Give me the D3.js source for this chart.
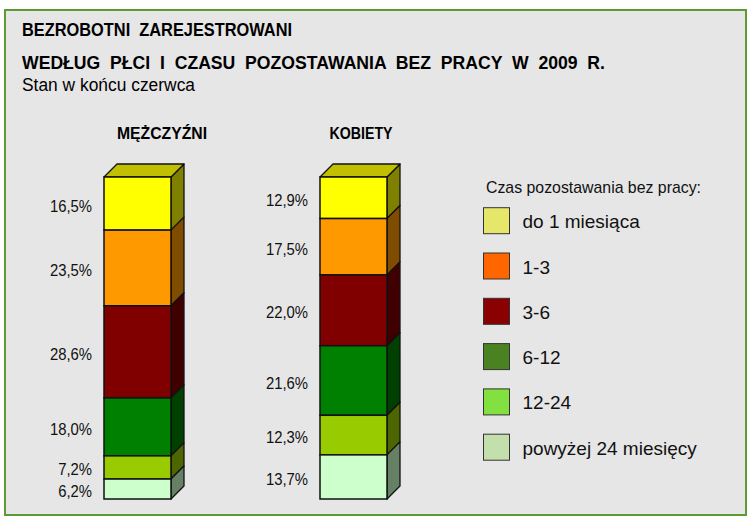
<!DOCTYPE html>
<html>
<head>
<meta charset="utf-8">
<script src="https://cdn.jsdelivr.net/npm/d3@7"></script>
<style>
  html, body { margin: 0; padding: 0; background: #fff; }
  svg { display: block; font-family: "Liberation Sans", Arial, sans-serif; }
</style>
</head>
<body>
<div id="chart"></div>
<script>
// ---- Data ----
var CATEGORIES = ['do 1 miesiąca', '1-3', '3-6', '6-12', '12-24', 'powyżej 24 miesięcy'];
var GROUPS = ['MĘŻCZYŹNI', 'KOBIETY'];
var MEN = [16.5, 23.5, 28.6, 18.0, 7.2, 6.2];
var WOMEN = [12.9, 17.5, 22.0, 21.6, 12.3, 13.7];

// Bar face colours (front / side / top) and legend swatch colours
var FRONT = ['#ffff00', '#ff9900', '#800000', '#008000', '#99cc00', '#ccffcc'];
var SIDE = ['#808000', '#804d00', '#400000', '#004000', '#4d6600', '#668066'];
var TOP = '#c0c000';
var LEGEND = ['#e6e66a', '#ff6600', '#8b0000', '#4a8222', '#82e040', '#c3e0ac'];

var W = 751, H = 521;
var BAR_W = 67, DEPTH = 13;

var svg = d3.select('#chart').append('svg')
  .attr('width', W)
  .attr('height', H);

// squeeze a text horizontally to look like a narrow face
function narrow(sel, factor) {
  sel.each(function () {
    var len = this.getComputedTextLength();
    d3.select(this)
      .attr('textLength', len * factor)
      .attr('lengthAdjust', 'spacingAndGlyphs');
  });
}

// Frame
svg.append('rect')
  .attr('x', 5).attr('y', 10)
  .attr('width', 741).attr('height', 505)
  .attr('fill', '#e6e6e6')
  .attr('stroke', '#5b9b33')
  .attr('stroke-width', 2);

// Titles
var titles = [
  { text: 'BEZROBOTNI  ZAREJESTROWANI', y: 36, len: 270, size: 18, bold: true },
  { text: 'WEDŁUG  PŁCI  I  CZASU  POZOSTAWANIA  BEZ  PRACY  W  2009  R.', y: 69, len: 583, size: 18, bold: true },
  { text: 'Stan w końcu czerwca', y: 91, len: 173, size: 17.5, bold: false }
];
svg.selectAll('.title')
  .data(titles)
  .enter().append('text')
  .attr('class', 'title')
  .attr('x', 22)
  .attr('y', function (d) { return d.y; })
  .attr('textLength', function (d) { return d.len; })
  .attr('lengthAdjust', 'spacingAndGlyphs')
  .style('white-space', 'pre')
  .attr('font-size', function (d) { return d.size; })
  .attr('font-weight', function (d) { return d.bold ? 'bold' : 'normal'; })
  .attr('fill', '#000')
  .text(function (d) { return d.text; });

// ---- Scales ----
var x = d3.scalePoint().domain(GROUPS).range([104, 320]);
var y = d3.scaleLinear().domain([0, 100]).range([177, 499]);

var locale = d3.formatLocale({ decimal: ',', thousands: ' ', grouping: [3], currency: ['', ' zł'] });
var fmt = locale.format('.1f');

function stackData(values) {
  var acc = 0;
  return values.map(function (v, i) {
    var d = { i: i, value: v, y0: acc, y1: acc + v };
    acc += v;
    return d;
  });
}

var groupTitle = {
  'MĘŻCZYŹNI': { x: 162, len: 90 },
  'KOBIETY': { x: 361, len: 63 }
};

GROUPS.forEach(function (name, gi) {
  var data = stackData(gi === 0 ? MEN : WOMEN);
  var x0 = x(name), x1 = x0 + BAR_W;
  var g = svg.append('g').attr('class', 'bar');

  // side faces
  g.selectAll('.side')
    .data(data)
    .enter().append('path')
    .attr('class', 'side')
    .attr('d', function (d) {
      var t = y(d.y0), b = y(d.y1);
      return 'M' + x1 + ',' + t + 'L' + (x1 + DEPTH) + ',' + (t - DEPTH) +
             'L' + (x1 + DEPTH) + ',' + (b - DEPTH) + 'L' + x1 + ',' + b + 'Z';
    })
    .attr('fill', function (d) { return SIDE[d.i]; })
    .attr('stroke', '#111')
    .attr('stroke-width', 1.3)
    .attr('stroke-linejoin', 'round');

  // top face
  var top = y(0);
  g.append('path')
    .attr('d', 'M' + x0 + ',' + top + 'L' + (x0 + DEPTH) + ',' + (top - DEPTH) +
               'L' + (x1 + DEPTH) + ',' + (top - DEPTH) + 'L' + x1 + ',' + top + 'Z')
    .attr('fill', TOP)
    .attr('stroke', '#111')
    .attr('stroke-width', 1.3)
    .attr('stroke-linejoin', 'round');

  // front faces
  g.selectAll('.front')
    .data(data)
    .enter().append('rect')
    .attr('class', 'front')
    .attr('x', x0)
    .attr('y', function (d) { return y(d.y0); })
    .attr('width', BAR_W)
    .attr('height', function (d) { return y(d.y1) - y(d.y0); })
    .attr('fill', function (d) { return FRONT[d.i]; })
    .attr('stroke', '#111')
    .attr('stroke-width', 1.5);

  // value labels
  g.selectAll('.lbl')
    .data(data)
    .enter().append('text')
    .attr('class', 'lbl')
    .attr('x', x0 - 12)
    .attr('y', function (d) { return (y(d.y0) + y(d.y1)) / 2 + 8; })
    .attr('text-anchor', 'end')
    .attr('font-size', 16.5)
    .attr('fill', '#111')
    .text(function (d) { return fmt(d.value) + '%'; })
    .call(narrow, 0.9);

  // group title
  svg.append('text')
    .attr('x', groupTitle[name].x)
    .attr('y', 139)
    .attr('text-anchor', 'middle')
    .attr('font-size', 16)
    .attr('font-weight', 'bold')
    .attr('textLength', groupTitle[name].len)
    .attr('lengthAdjust', 'spacingAndGlyphs')
    .text(name);
});

// ---- Legend ----
var ly = d3.scaleBand().domain(CATEGORIES).range([207.7, 207.7 + 45.3 * CATEGORIES.length]);

svg.append('text')
  .attr('x', 486)
  .attr('y', 193)
  .attr('font-size', 17)
  .attr('textLength', 215)
  .attr('lengthAdjust', 'spacingAndGlyphs')
  .attr('fill', '#111')
  .text('Czas pozostawania bez pracy:');

var legend = svg.selectAll('.legend')
  .data(CATEGORIES)
  .enter().append('g')
  .attr('class', 'legend')
  .attr('transform', function (d) { return 'translate(483.5,' + ly(d) + ')'; });

legend.append('rect')
  .attr('width', 26)
  .attr('height', 26)
  .attr('fill', function (d, i) { return LEGEND[i]; })
  .attr('stroke', '#333')
  .attr('stroke-width', 1);

legend.append('text')
  .attr('x', 39)
  .attr('y', 20.5)
  .attr('font-size', 19)
  .attr('fill', '#111')
  .text(function (d) { return d; });
</script>
</body>
</html>
